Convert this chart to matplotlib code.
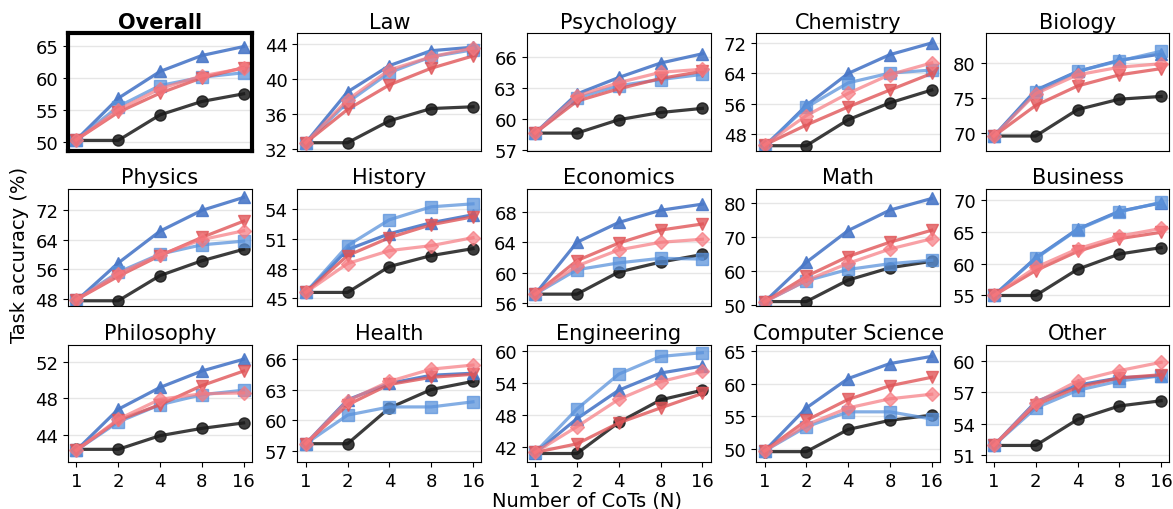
import matplotlib
matplotlib.use("Agg")
import matplotlib.pyplot as plt

N = [1, 2, 4, 8, 16]

TITLES = ["Overall", "Law", "Psychology", "Chemistry", "Biology",
          "Physics", "History", "Economics", "Math", "Business",
          "Philosophy", "Health", "Engineering", "Computer Science", "Other"]

# baseline (black circles)
base = [
    [50.2, 50.2, 54.2, 56.3, 57.5],
    [32.7, 32.7, 35.2, 36.6, 36.8],
    [58.6, 58.6, 59.9, 60.6, 61.0],
    [44.8, 44.8, 51.7, 56.2, 59.6],
    [69.5, 69.5, 73.3, 74.8, 75.2],
    [47.5, 47.5, 54.3, 58.3, 61.4],
    [45.6, 45.6, 48.2, 49.3, 50.0],
    [57.2, 57.2, 60.1, 61.4, 62.4],
    [51.1, 51.1, 57.4, 61.0, 62.9],
    [55.0, 55.0, 59.1, 61.5, 62.5],
    [42.4, 42.4, 43.9, 44.7, 45.3],
    [57.7, 57.7, 61.2, 63.0, 63.8],
    [40.8, 40.8, 46.6, 50.8, 52.6],
    [49.6, 49.6, 53.0, 54.4, 55.2],
    [51.9, 51.9, 54.4, 55.7, 56.2],
]

# dark blue, triangle up
blue_up = [
    [50.3, 56.8, 61.0, 63.5, 64.9],
    [32.7, 38.5, 41.5, 43.2, 43.6],
    [58.6, 62.4, 64.0, 65.4, 66.3],
    [44.5, 55.5, 64.0, 69.0, 72.1],
    [69.5, 76.1, 78.8, 80.4, 81.3],
    [47.5, 57.7, 66.3, 71.9, 75.4],
    [45.6, 49.9, 51.5, 52.6, 53.4],
    [57.2, 64.0, 66.6, 68.2, 69.0],
    [51.0, 62.6, 71.9, 77.9, 81.3],
    [55.0, 60.9, 65.4, 68.2, 69.5],
    [42.3, 46.8, 49.2, 51.0, 52.3],
    [57.7, 62.0, 63.6, 64.4, 64.6],
    [40.9, 47.3, 52.6, 55.8, 57.1],
    [49.7, 56.3, 60.8, 63.1, 64.2],
    [51.9, 56.1, 57.7, 58.4, 58.6],
]

# light blue, squares
blue_sq = [
    [50.3, 55.5, 58.8, 60.1, 60.8],
    [32.7, 37.3, 40.7, 42.5, 43.3],
    [58.6, 62.0, 63.2, 63.8, 64.3],
    [44.8, 55.0, 61.5, 64.1, 64.9],
    [69.5, 75.8, 78.8, 80.3, 81.7],
    [47.8, 55.2, 60.1, 62.6, 63.6],
    [45.6, 50.3, 52.9, 54.2, 54.5],
    [57.2, 60.4, 61.3, 61.9, 61.8],
    [51.0, 57.2, 60.5, 62.2, 63.2],
    [55.0, 60.8, 65.3, 68.1, 69.6],
    [42.3, 45.4, 47.3, 48.4, 48.9],
    [57.7, 60.5, 61.3, 61.3, 61.8],
    [41.0, 49.1, 55.6, 58.9, 59.6],
    [49.7, 53.4, 55.7, 55.7, 54.6],
    [51.9, 55.5, 57.2, 58.1, 58.6],
]

# red, triangle down
red_down = [
    [50.3, 54.6, 57.6, 60.0, 61.6],
    [32.7, 36.5, 39.3, 41.2, 42.6],
    [58.6, 61.7, 62.9, 63.9, 64.6],
    [45.0, 50.3, 55.1, 59.6, 64.0],
    [69.5, 73.9, 76.7, 78.3, 79.2],
    [47.8, 54.1, 59.7, 64.6, 69.0],
    [45.6, 49.3, 51.1, 52.4, 53.2],
    [57.2, 61.6, 63.9, 65.6, 66.4],
    [51.0, 58.5, 64.3, 68.5, 72.0],
    [55.0, 58.9, 61.9, 63.9, 64.9],
    [42.3, 45.6, 47.3, 49.4, 51.0],
    [57.7, 61.5, 63.5, 64.2, 64.5],
    [41.0, 42.6, 46.5, 49.3, 52.0],
    [49.7, 54.4, 57.6, 59.7, 61.0],
    [51.9, 55.8, 57.5, 58.4, 58.7],
]

# pink, diamonds
pink_dia = [
    [50.3, 55.0, 58.3, 60.3, 61.5],
    [32.7, 37.6, 41.0, 42.5, 43.5],
    [58.6, 62.2, 63.5, 64.5, 64.8],
    [45.0, 52.8, 58.7, 63.7, 66.8],
    [69.5, 75.6, 78.3, 79.4, 79.9],
    [47.8, 54.8, 59.9, 64.0, 66.4],
    [45.6, 48.5, 49.8, 50.3, 51.1],
    [57.2, 60.9, 63.0, 64.0, 64.4],
    [51.0, 57.3, 62.3, 66.5, 69.5],
    [55.0, 59.4, 62.3, 64.3, 65.5],
    [42.3, 45.7, 47.9, 48.5, 48.6],
    [57.7, 61.9, 63.8, 65.0, 65.4],
    [41.0, 45.8, 50.9, 54.2, 56.1],
    [49.7, 53.7, 56.3, 57.7, 58.4],
    [51.9, 56.0, 58.1, 59.1, 59.9],
]

YTICKS = [
    [50, 55, 60, 65], [32, 36, 40, 44], [57, 60, 63, 66], [48, 56, 64, 72], [70, 75, 80],
    [48, 56, 64, 72], [45, 48, 51, 54], [56, 60, 64, 68], [50, 60, 70, 80], [55, 60, 65, 70],
    [44, 48, 52], [57, 60, 63, 66], [42, 48, 54, 60], [50, 55, 60, 65], [51, 54, 57, 60],
]
YLIMS = [
    (48.6, 67.0), (31.8, 45.2), (56.9, 68.3), (43.5, 74.7), (67.4, 84.3),
    (46.0, 77.7), (44.2, 56.0), (55.6, 71.0), (49.7, 84.1), (53.3, 71.7),
    (41.0, 53.9), (55.9, 67.4), (39.2, 61.1), (48.0, 66.0), (50.3, 61.6),
]

SERIES = [
    (base, "o", "#1a1a1a", 0.85, 8),
    (blue_up, "^", "#4a78c8", 0.9, 8),
    (blue_sq, "s", "#5b93dc", 0.75, 8),
    (red_down, "v", "#e05558", 0.8, 8),
    (pink_dia, "D", "#f67a80", 0.7, 7.5),
]

plt.rcParams["font.size"] = 13

fig, axes = plt.subplots(3, 5, figsize=(11.73, 5.1), dpi=100)
fig.subplots_adjust(left=0.058, right=0.997, top=0.933, bottom=0.092,
                    wspace=0.247, hspace=0.326)

for i, ax in enumerate(axes.flat):
    for data, mk, col, a, ms in SERIES:
        ax.plot(N, data[i], marker=mk, color=col, alpha=a, lw=2.3, ms=ms)
    ax.set_xscale("log", base=2)
    ax.set_xticks(N)
    ax.set_xticks([], minor=True)
    ax.set_yticks(YTICKS[i])
    ax.set_ylim(*YLIMS[i])
    ax.grid(axis="y", color="#e6e6e6", lw=1)
    ax.set_axisbelow(True)
    if i >= 10:
        ax.set_xticklabels([str(n) for n in N])
    else:
        ax.tick_params(axis="x", bottom=False, labelbottom=False)
    if i == 0:
        ax.set_title(TITLES[i], fontweight="bold", pad=4, fontsize=15)
        for sp in ax.spines.values():
            sp.set_linewidth(3)
    else:
        ax.set_title(TITLES[i], pad=4, fontsize=15)

fig.text(0.017, 0.5, "Task accuracy (%)", rotation=90, va="center", ha="center", fontsize=14)
fig.text(0.5, 0.018, "Number of CoTs (N)", va="center", ha="center", fontsize=14)

fig.savefig("out.png", dpi=100)
